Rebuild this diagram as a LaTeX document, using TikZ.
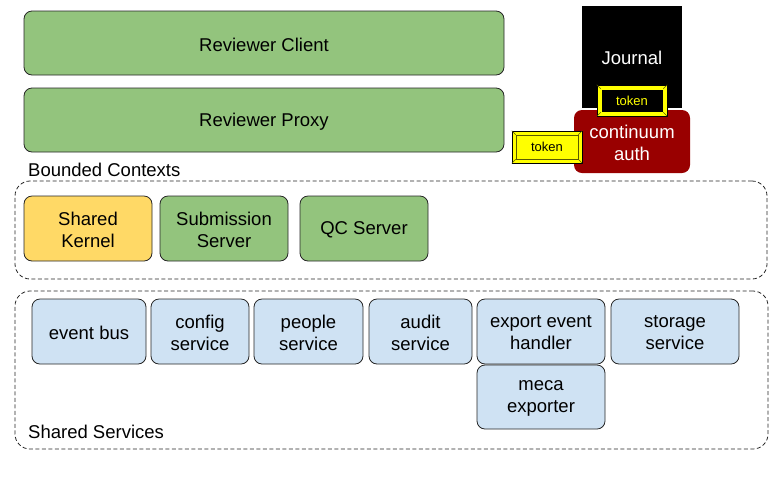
\documentclass[tikz,border=0pt]{standalone}
\usepackage{fontspec}
\setmainfont{Liberation Sans}
\begin{document}
\begin{tikzpicture}[x=1pt,y=-1pt,
  every node/.style={font=\fontsize{18.5}{22}\selectfont, align=center, inner sep=0pt},
  box/.style={draw=black!85, line width=0.8pt, rounded corners=8pt},
  greenbox/.style={box, fill={rgb,255:red,147;green,196;blue,125}},
  yellowbox/.style={box, fill={rgb,255:red,255;green,217;blue,102}},
  bluebox/.style={box, fill={rgb,255:red,207;green,226;blue,243}},
  redbox/.style={rounded corners=8pt, fill={rgb,255:red,153;green,0;blue,0}, text=white},
  journalbox/.style={fill=black, text=white},
  dashbox/.style={draw=black!85, line width=0.8pt, dashed, dash pattern=on 4pt off 2.5pt, rounded corners=15pt},
  tokenouter/.style={draw=black, line width=0.6pt, fill={rgb,255:red,255;green,255;blue,0}},
  tokeninner/.style={line width=0.6pt, font=\fontsize{13}{15}\selectfont},
  bevel/.style={line width=0.5pt, draw={rgb,255:red,90;green,90;blue,0}},
  lbl/.style={anchor=west}
]
\useasboundingbox (0,0) rectangle (778,483);

% top row
\node[greenbox, minimum width=480pt, minimum height=64pt] (client) at (264,43) {};
\node (clienttxt) at (264,44.5) {Reviewer Client};
\node[greenbox, minimum width=480pt, minimum height=64pt] (proxy) at (264,120) {};
\node (proxytxt) at (264,121.5) {Reviewer Proxy};

% journal and auth
\node[journalbox, minimum width=100pt, minimum height=102pt] (journal) at (632,57) {};
\node[text=white] (journaltxt) at (632,58) {Journal};
\node[redbox, minimum width=116pt, minimum height=63pt] (auth) at (632,141.5) {};
\node[text=white] (authtxt) at (632,142.5) {continuum\\auth};

% token on journal
\node[tokenouter, minimum width=70pt, minimum height=31pt] (tok1o) at (632,100.5) {};
\node[tokeninner, draw={rgb,255:red,255;green,255;blue,0}, fill=black, text={rgb,255:red,255;green,255;blue,0}, minimum width=62pt, minimum height=23pt] (tok1) at (632,100.5) {token};
\draw[bevel] (tok1o.north west) -- (tok1.north west) (tok1o.north east) -- (tok1.north east) (tok1o.south west) -- (tok1.south west) (tok1o.south east) -- (tok1.south east);

% token left
\node[tokenouter, minimum width=70pt, minimum height=32pt] (tok2o) at (547,147) {};
\node[tokeninner, draw={rgb,255:red,90;green,90;blue,0}, fill={rgb,255:red,255;green,255;blue,0}, text=black, minimum width=62pt, minimum height=24pt] (tok2) at (547,147) {token};
\draw[bevel] (tok2o.north west) -- (tok2.north west) (tok2o.north east) -- (tok2.north east) (tok2o.south west) -- (tok2.south west) (tok2o.south east) -- (tok2.south east);

% Bounded contexts
\node[lbl] (bclabel) at (28,170) {Bounded Contexts};
\node[dashbox, minimum width=752pt, minimum height=98pt] (bc) at (391,230) {};
\node[yellowbox, minimum width=128pt, minimum height=65pt] (kernel) at (88,228.5) {};
\node (kerneltxt) at (88,229.5) {Shared\\Kernel};
\node[greenbox, minimum width=128pt, minimum height=65pt] (submission) at (224,228.5) {};
\node (submissiontxt) at (224,229.5) {Submission\\Server};
\node[greenbox, minimum width=128pt, minimum height=65pt] (qc) at (364,228.5) {};
\node (qctxt) at (364,229.5) {QC Server};

% Shared services
\node[dashbox, minimum width=753pt, minimum height=158pt] (ss) at (391.5,370) {};
\node[lbl] (sslabel) at (28,432) {Shared Services};
\node[bluebox, minimum width=114pt, minimum height=65pt] (bus) at (89,331.5) {};
\node (bustxt) at (89,332.5) {event bus};
\node[bluebox, minimum width=98pt, minimum height=65pt] (config) at (200,331.5) {};
\node (configtxt) at (200,332.5) {config\\service};
\node[bluebox, minimum width=109pt, minimum height=65pt] (people) at (308.5,331.5) {};
\node (peopletxt) at (308.5,332.5) {people\\service};
\node[bluebox, minimum width=103pt, minimum height=65pt] (audit) at (420.5,331.5) {};
\node (audittxt) at (420.5,332.5) {audit\\service};
\node[bluebox, minimum width=128pt, minimum height=65pt] (export) at (541,331.5) {};
\node (exporttxt) at (541,332.5) {export event\\handler};
\node[bluebox, minimum width=128pt, minimum height=65pt] (storage) at (675,331.5) {};
\node (storagetxt) at (675,332.5) {storage\\service};
\node[bluebox, minimum width=128pt, minimum height=64pt] (meca) at (541,397) {};
\node (mecatxt) at (541,398) {meca\\exporter};
\end{tikzpicture}
\end{document}
